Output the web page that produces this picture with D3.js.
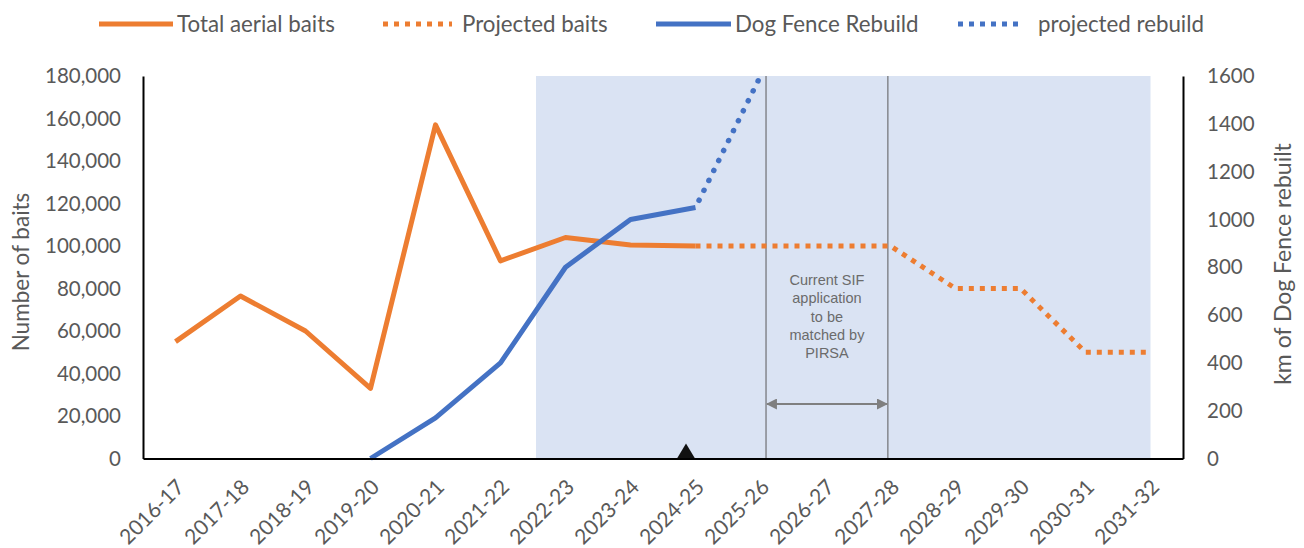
<!DOCTYPE html>
<html><head><meta charset="utf-8">
<script src="https://cdn.jsdelivr.net/npm/d3@7/dist/d3.min.js"></script>
<style>body{margin:0;background:#fff}svg{display:block}</style>
</head><body>
<svg id="c" width="1304" height="548"></svg>
<script>
const categories = ["2016-17","2017-18","2018-19","2019-20","2020-21","2021-22","2022-23","2023-24","2024-25","2025-26","2026-27","2027-28","2028-29","2029-30","2030-31","2031-32"];
const baitYears = ["2016-17","2017-18","2018-19","2019-20","2020-21","2021-22","2022-23","2023-24","2024-25"];
const baitValues = [55000,76500,60000,33000,157000,93000,104000,100500,100000];
const projBaitYears = ["2024-25","2025-26","2026-27","2027-28","2028-29","2029-30","2030-31","2031-32"];
const projBaitValues = [100000,100000,100000,100000,80000,80000,50000,50000];
const fenceYears = ["2019-20","2020-21","2021-22","2022-23","2023-24","2024-25"];
const fenceValues = [0,170,400,800,1000,1050];
const projFenceYears = ["2024-25","2025-26"];
const projFenceValues = [1050,1600];
const leftTicks = [0,20000,40000,60000,80000,100000,120000,140000,160000,180000];
const rightTicks = [0,200,400,600,800,1000,1200,1400,1600];
const noteLines = ["Current SIF","application","to be","matched by","PIRSA"];

const svg = d3.select("#c");
const L=143,R=1183,T=76,B=458.5;
const font="Lato, 'Open Sans', sans-serif";
const x = d3.scaleBand().domain(categories).range([L,R]).padding(0);
const bw = x.bandwidth();
const cx = c => x(c)+bw/2;
const yL = d3.scaleLinear().domain([0,180000]).range([B,T]);
const yR = d3.scaleLinear().domain([0,1600]).range([B,T]);

// shaded region
svg.append("rect").attr("x",x("2022-23")+3).attr("y",T)
  .attr("width",cx("2031-32")-x("2022-23")-3).attr("height",B-T).attr("fill","#dae3f3");

// vertical markers
const vl = [x("2025-26")+bw*0.585, x("2027-28")+bw*0.46];
vl.forEach(v=>svg.append("line").attr("x1",v).attr("x2",v).attr("y1",T).attr("y2",B).attr("stroke","#595959").attr("stroke-width",1));

// note text
const nt = svg.append("text").attr("font-family","Arial, 'Liberation Sans', sans-serif").attr("font-size",14.5).attr("fill","#6b6b6b").attr("text-anchor","middle");
noteLines.forEach((t,i)=>nt.append("tspan").attr("x",(vl[0]+vl[1])/2).attr("y",285+i*18.3).text(t));

// arrow
const defs = svg.append("defs");
defs.append("marker").attr("id","ah").attr("viewBox","0 0 10 10").attr("refX",9).attr("refY",5)
  .attr("markerWidth",5).attr("markerHeight",5).attr("orient","auto-start-reverse")
  .append("path").attr("d","M0,0L10,5L0,10z").attr("fill","#7f7f7f");
svg.append("line").attr("x1",vl[0]+1).attr("x2",vl[1]-1).attr("y1",404).attr("y2",404)
  .attr("stroke","#7f7f7f").attr("stroke-width",2.2)
  .attr("marker-start","url(#ah)").attr("marker-end","url(#ah)");

// lines
const lineL = d3.line().x(d=>cx(d[0])).y(d=>yL(d[1]));
const lineR = d3.line().x(d=>cx(d[0])).y(d=>yR(d[1]));
svg.append("path").datum(d3.zip(projBaitYears,projBaitValues)).attr("d",lineL)
  .attr("fill","none").attr("stroke","#ed7d31").attr("stroke-width",5).attr("stroke-dasharray","5 6");
svg.append("path").datum(d3.zip(baitYears,baitValues)).attr("d",lineL)
  .attr("fill","none").attr("stroke","#ed7d31").attr("stroke-width",5).attr("stroke-linejoin","round");
svg.append("path").datum(d3.zip(projFenceYears,projFenceValues)).attr("d",lineR)
  .attr("fill","none").attr("stroke","#4472c4").attr("stroke-width",5.5).attr("stroke-linecap","round").attr("stroke-dasharray","0.1 11").attr("stroke-dashoffset",-8);
svg.append("path").datum(d3.zip(fenceYears,fenceValues)).attr("d",lineR)
  .attr("fill","none").attr("stroke","#4472c4").attr("stroke-width",5).attr("stroke-linejoin","round");

// triangle
svg.append("path").attr("d",`M${cx("2024-25")-18.5},${B}l9,-15l9,15z`).attr("fill","#111");

// axes
const gL = svg.append("g").attr("transform",`translate(${L},0)`)
  .call(d3.axisLeft(yL).tickValues(leftTicks).tickSize(0).tickPadding(22).tickFormat(d3.format(",")));
const gR = svg.append("g").attr("transform",`translate(${R},0)`)
  .call(d3.axisRight(yR).tickValues(rightTicks).tickSize(0).tickPadding(24).tickFormat(d3.format("d")));
[gL,gR].forEach(g=>{g.select(".domain").attr("stroke","#000").attr("stroke-width",2);
  g.selectAll("text").attr("font-family",font).attr("font-size",20.5).attr("fill","#595959");});
const gX = svg.append("g").attr("transform",`translate(0,${B})`)
  .call(d3.axisBottom(x).tickSize(0).tickSizeOuter(0).tickFormat(d=>d));
gX.select(".domain").attr("stroke","#000").attr("stroke-width",2);
gX.selectAll("text").attr("font-family",font).attr("font-size",21).attr("fill","#595959")
  .attr("text-anchor","end").attr("dy",0).attr("y",0)
  .attr("transform","translate(10,30) rotate(-45)");

// axis titles
svg.append("text").attr("transform","translate(29,272) rotate(-90)").attr("text-anchor","middle")
  .attr("font-family",font).attr("font-size",22.5).attr("fill","#595959").text("Number of baits");
svg.append("text").attr("transform","translate(1291,264) rotate(-90)").attr("text-anchor","middle")
  .attr("font-family",font).attr("font-size",23).attr("fill","#595959").text("km of Dog Fence rebuilt");

// legend
const leg = [
  {x1:99,x2:173,tx:177,c:"#ed7d31",dash:null,t:"Total aerial baits"},
  {x1:383,x2:452,tx:462,c:"#ed7d31",dash:"5 6",t:"Projected baits"},
  {x1:656,x2:731,tx:735,c:"#4472c4",dash:null,t:"Dog Fence Rebuild"},
  {x1:958,x2:1024,tx:1038,c:"#4472c4",dash:"5 6",t:"projected rebuild"}];
leg.forEach(l=>{
  const ln=svg.append("line").attr("x1",l.x1).attr("x2",l.x2).attr("y1",24).attr("y2",24)
    .attr("stroke",l.c).attr("stroke-width",5);
  if(l.dash) ln.attr("stroke-dasharray",l.dash);
  svg.append("text").attr("x",l.tx).attr("y",31.5).attr("font-family",font).attr("font-size",22.3)
    .attr("fill","#595959").text(l.t);
});
</script>
</body></html>
